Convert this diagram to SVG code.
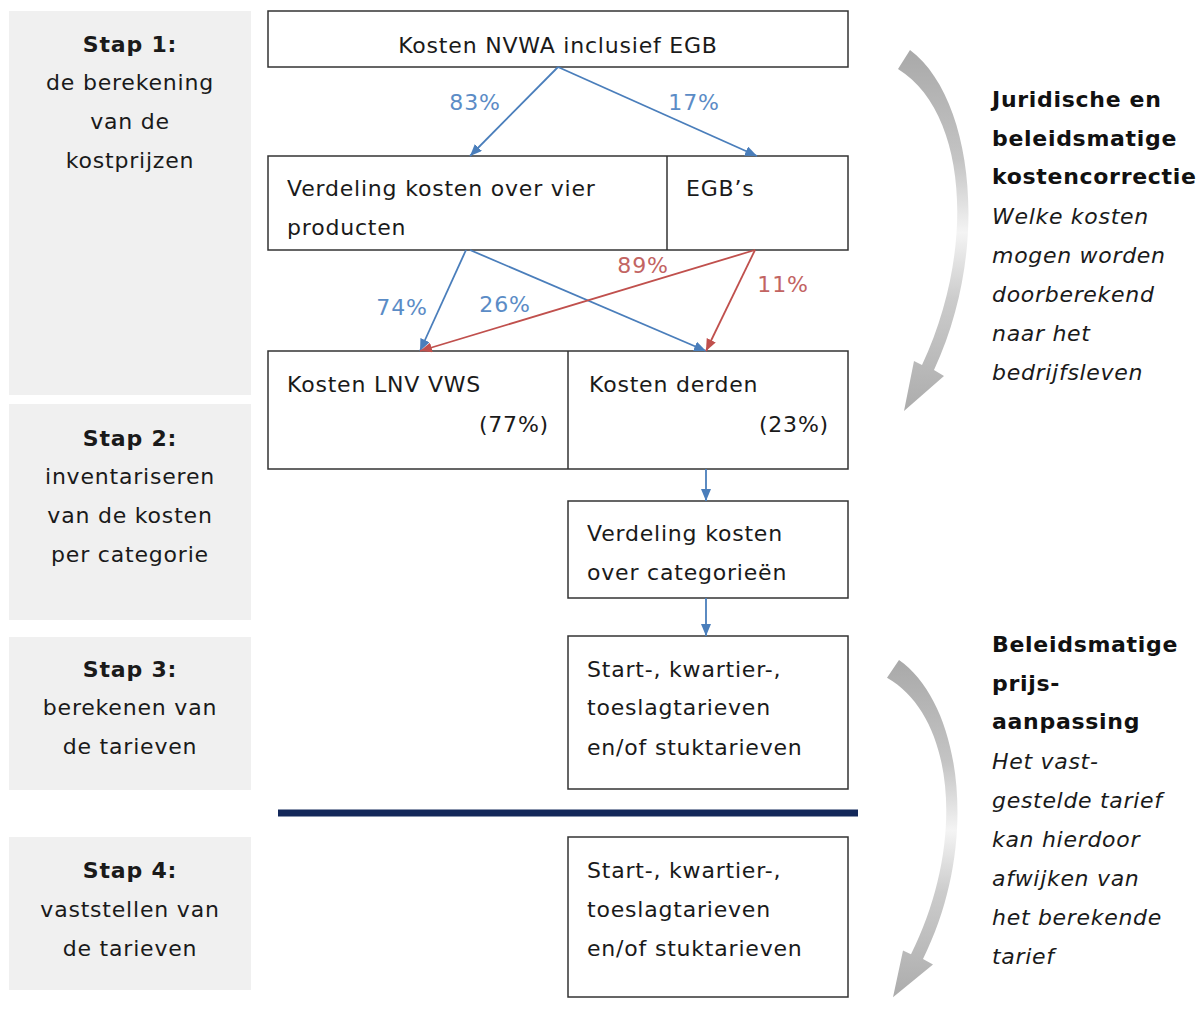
<svg xmlns="http://www.w3.org/2000/svg" width="1202" height="1010" viewBox="0 0 1202 1010">
<style>
.panel{fill:#f0f0f0}
.box{fill:#fff;stroke:#333;stroke-width:1.5}
.div{stroke:#333;stroke-width:1.5}
.t{font-family:"DejaVu Sans",Verdana,sans-serif;font-size:22px;fill:#1a1a1a;letter-spacing:0.8px}
.c{text-anchor:middle}
.e{text-anchor:end}
.b{font-weight:bold}
.rb{font-family:"DejaVu Sans",Verdana,sans-serif;font-size:22px;font-weight:bold;fill:#111;letter-spacing:0.7px}
.ri{font-family:"DejaVu Sans",Verdana,sans-serif;font-size:22px;font-style:italic;fill:#1a1a1a;letter-spacing:0.7px}
.blue{stroke:#4a7ebb;stroke-width:1.8;fill:none}
.red{stroke:#c0504d;stroke-width:1.8;fill:none}
.lb{font-family:"DejaVu Sans",Verdana,sans-serif;font-size:22px;fill:#5b8cc6;text-anchor:middle;letter-spacing:0.8px}
.lr{font-family:"DejaVu Sans",Verdana,sans-serif;font-size:22px;fill:#c26462;text-anchor:middle;letter-spacing:0.8px}
</style>
<defs>
<marker id="ab" viewBox="0 0 12 10" refX="12" refY="5" markerWidth="12" markerHeight="10" markerUnits="userSpaceOnUse" orient="auto"><path d="M0,0 L12,5 L0,10 z" fill="#4a7ebb"/></marker>
<marker id="ar" viewBox="0 0 12 10" refX="12" refY="5" markerWidth="12" markerHeight="10" markerUnits="userSpaceOnUse" orient="auto"><path d="M0,0 L12,5 L0,10 z" fill="#c0504d"/></marker>
<linearGradient id="gg" gradientUnits="userSpaceOnUse" x1="0" y1="50" x2="0" y2="415">
<stop offset="0" stop-color="#a9a9a9"/>
<stop offset="0.3" stop-color="#c4c4c4"/>
<stop offset="0.5" stop-color="#f4f4f4"/>
<stop offset="0.68" stop-color="#cccccc"/>
<stop offset="1" stop-color="#ababab"/>
</linearGradient>
<path id="curve" d="M910,50 C972,96 992,245 934,370 L944,376 L904,411 L914,361 L922,365 C976,250 968,112 898,69 Z" fill="url(#gg)"/>
</defs>
<rect width="1202" height="1010" fill="#fff"/>

<g id="step1"><rect class="panel" x="9" y="11" width="242" height="384"/>
<text class="t c b" x="130" y="52">Stap 1:</text>
<text class="t c" x="130" y="90">de berekening</text>
<text class="t c" x="130" y="129">van de</text>
<text class="t c" x="130" y="168">kostprijzen</text></g>
<g id="step2"><rect class="panel" x="9" y="404" width="242" height="216"/>
<text class="t c b" x="130" y="446">Stap 2:</text>
<text class="t c" x="130" y="484">inventariseren</text>
<text class="t c" x="130" y="523">van de kosten</text>
<text class="t c" x="130" y="562">per categorie</text></g>
<g id="step3"><rect class="panel" x="9" y="637" width="242" height="153"/>
<text class="t c b" x="130" y="677">Stap 3:</text>
<text class="t c" x="130" y="715">berekenen van</text>
<text class="t c" x="130" y="754">de tarieven</text></g>
<g id="step4"><rect class="panel" x="9" y="837" width="242" height="153"/>
<text class="t c b" x="130" y="878">Stap 4:</text>
<text class="t c" x="130" y="917">vaststellen van</text>
<text class="t c" x="130" y="956">de tarieven</text></g>

<g id="n-nvwa"><rect class="box" x="268" y="11" width="580" height="56"/>
<text class="t c" x="558" y="53">Kosten NVWA inclusief EGB</text></g>
<g id="n-verdeling"><rect class="box" x="268" y="156" width="580" height="94"/>
<line class="div" x1="667" y1="156" x2="667" y2="250"/>
<text class="t" x="287" y="196">Verdeling kosten over vier</text>
<text class="t" x="287" y="235">producten</text>
<text class="t" x="686" y="196">EGB’s</text></g>
<g id="n-kosten"><rect class="box" x="268" y="351" width="580" height="118"/>
<line class="div" x1="568" y1="351" x2="568" y2="469"/>
<text class="t" x="287" y="392">Kosten LNV VWS</text>
<text class="t e" x="549" y="432">(77%)</text>
<text class="t" x="589" y="392">Kosten derden</text>
<text class="t e" x="829" y="432">(23%)</text></g>
<g id="n-categorie"><rect class="box" x="568" y="501" width="280" height="97"/>
<text class="t" x="587" y="541">Verdeling kosten</text>
<text class="t" x="587" y="580">over categorieën</text></g>
<g id="n-tarief3"><rect class="box" x="568" y="636" width="280" height="153"/>
<text class="t" x="587" y="677">Start-, kwartier-,</text>
<text class="t" x="587" y="715">toeslagtarieven</text>
<text class="t" x="587" y="755">en/of stuktarieven</text></g>
<g id="n-tarief4"><rect class="box" x="568" y="837" width="280" height="160"/>
<text class="t" x="587" y="878">Start-, kwartier-,</text>
<text class="t" x="587" y="917">toeslagtarieven</text>
<text class="t" x="587" y="956">en/of stuktarieven</text></g>

<line id="separator" x1="278" y1="813" x2="858" y2="813" stroke="#13285a" stroke-width="7"/>

<g id="connectors">
<line class="blue" x1="558" y1="67" x2="470" y2="156" marker-end="url(#ab)"/>
<line class="blue" x1="558" y1="67" x2="757" y2="156" marker-end="url(#ab)"/>
<line class="blue" x1="466" y1="250" x2="420" y2="351" marker-end="url(#ab)"/>
<line class="blue" x1="470" y1="250" x2="706" y2="351" marker-end="url(#ab)"/>
<line class="red" x1="755" y1="250" x2="420" y2="351" marker-end="url(#ar)"/>
<line class="red" x1="755" y1="250" x2="706" y2="351" marker-end="url(#ar)"/>
<line class="blue" x1="706" y1="469" x2="706" y2="501" marker-end="url(#ab)"/>
<line class="blue" x1="706" y1="598" x2="706" y2="636" marker-end="url(#ab)"/>
<text class="lb" x="475" y="110">83%</text>
<text class="lb" x="694" y="110">17%</text>
<text class="lb" x="402" y="315">74%</text>
<text class="lb" x="505" y="312">26%</text>
<text class="lr" x="643" y="273">89%</text>
<text class="lr" x="783" y="292">11%</text>
</g>

<g id="correctie">
<use href="#curve"/>
<text class="rb" x="992" y="107">Juridische en</text>
<text class="rb" x="992" y="146">beleidsmatige</text>
<text class="rb" x="992" y="184">kostencorrectie</text>
<text class="ri" x="992" y="224">Welke kosten</text>
<text class="ri" x="992" y="263">mogen worden</text>
<text class="ri" x="992" y="302">doorberekend</text>
<text class="ri" x="992" y="341">naar het</text>
<text class="ri" x="992" y="380">bedrijfsleven</text>
</g>
<g id="aanpassing">
<use href="#curve" transform="translate(-11,613.3) scale(1,0.934)"/>
<text class="rb" x="992" y="652">Beleidsmatige</text>
<text class="rb" x="992" y="691">prijs-</text>
<text class="rb" x="992" y="729">aanpassing</text>
<text class="ri" x="992" y="769">Het vast-</text>
<text class="ri" x="992" y="808">gestelde tarief</text>
<text class="ri" x="992" y="847">kan hierdoor</text>
<text class="ri" x="992" y="886">afwijken van</text>
<text class="ri" x="992" y="925">het berekende</text>
<text class="ri" x="992" y="964">tarief</text>
</g>
</svg>
